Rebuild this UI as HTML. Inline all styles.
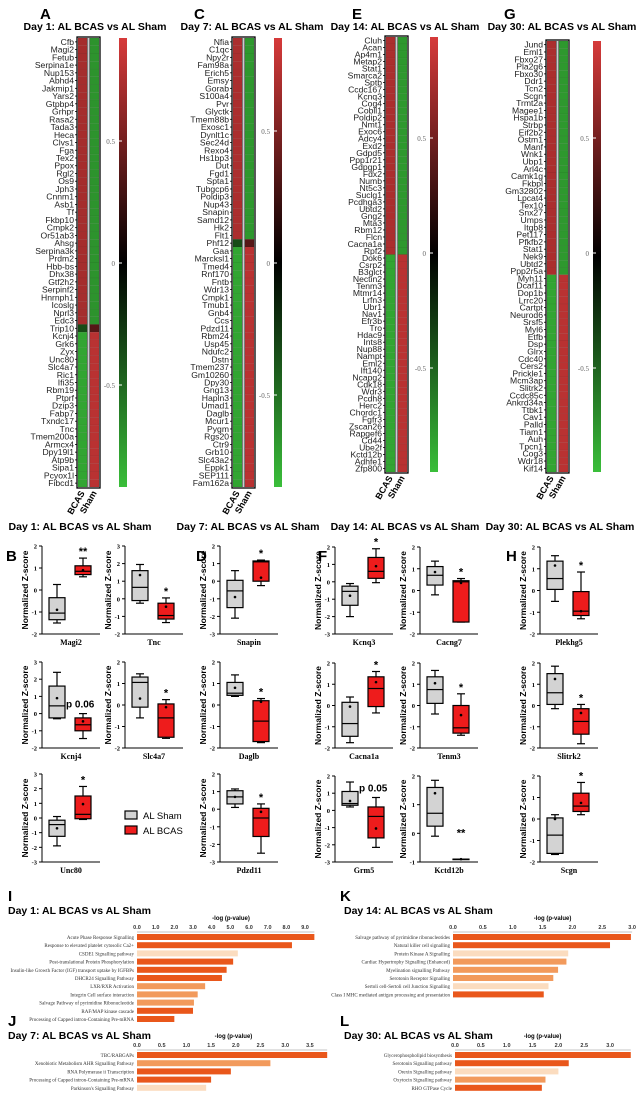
<!DOCTYPE html>
<html><head><meta charset="utf-8">
<style>
html,body{margin:0;padding:0;background:#fff;}
svg{display:block;font-family:"Liberation Sans",sans-serif;}
.ser{font-family:"Liberation Serif",serif;}
</style></head>
<body>
<svg id="fig" width="644" height="1095" viewBox="0 0 644 1095" xmlns="http://www.w3.org/2000/svg"></svg>
<script>
// ---------- Heatmap data ----------
const genesA = ["Cfb","Magi2","Fetub","Serpina1e","Nup153","Abhd4","Jakmip1","Yars2","Gtpbp4","Grhpr","Rasa2","Tada3","Heca","Clvs1","Fga","Tex2","Ppox","Rgl2","Os9","Jph3","Cnnm1","Asb1","Tf","Fkbp10","Cmpk2","Or51ab3","Ahsg","Serpina3k","Prdm2","Hbb-bs","Dhx38","Gtf2h2","Serpinf2","Hnrnph1","Icoslg","Nprl3","Edc3","Trip10","Kcnj4","Grk6","Zyx","Unc80","Slc4a7","Ric1","Ifi35","Rbm19","Ptprf","Dzip3","Fabp7","Txndc17","Tnc","Tmem200a","Armcx4","Dpy19l1","Atp9b","Sipa1","Pcyox1l","Fibcd1"];
const genesC = ["Nfia","C1qc","Npy2r","Fam98a","Erich5","Emsy","Gorab","S100a4","Pvr","Glyctk","Tmem88b","Exosc1","Dynlt1c","Sec24d","Rexo4","Hs1bp3","Dut","Fgd1","Spta1","Tubgcp6","Poldip3","Nup43","Snapin","Samd12","Hk2","Flt1","Phf12","Gaa","Marcksl1","Tmed4","Rnf170","Fntb","Wdr13","Cmpk1","Tmub1","Gnb4","Ccs","Pdzd11","Rbm24","Usp45","Ndufc2","Dstn","Tmem237","Gm10260","Dpy30","Gng13","Hapln3","Umad1","Daglb","Mcur1","Pygm","Rgs20","Ctr9","Grb10","Slc43a2","Eppk1","SEP111","Fam162a"];
const genesE = ["Cluh","Acan","Ap4m1","Metap2","Stat1","Smarca2","Sptb","Ccdc167","Kcnq3","Cog4","Cobll1","Poldip2","Nmt1","Exoc6","Adcy4","Exd2","Gdpd5","Ppp1r21","Gdpgp1","Fdx2","Numb","Nt5c3","Suclg1","Pcdhga3","Ubtd2","Gng2","Mta3","Rbm12","Flcn","Cacna1a","Rpf2","Dok6","Csrp2","B3glct","Nectin2","Tenm3","Mtmr14","Lrfn3","Ubr1","Nav1","Efr3b","Tro","Hdac9","Ints8","Nup88","Nampt","Eml2","Ift140","Ncapg2","Cdk18","Wdr3","Pcdh8","Herc2","Chordc1","Fgfr3","Zscan26","Rapgef6","Cd44","Ube2f","Kctd12b","Adhfe1","Zfp800"];
const genesG = ["Jund","Eml1","Fbxo27","Pla2g6","Fbxo30","Ddr1","Tcn2","Scgn","Trmt2a","Magee1","Hspa1b","Strbp","Eif2b2","Ostm1","Manf","Wnk1","Ubp1","Arl4c","Camk1g","Fkbpl","Gm32802","Lpcat4","Tex10","Snx27","Umps","Itgb8","Pet117","Pfkfb2","Stat1","Nek9","Ubtd2","Ppp2r5a","Myh11","Dcaf11","Dop1b","Lrrc20","Cartpt","Neurod6","Srsf5","Myl6","Etfb","Dsp","Glrx","Cdc40","Cers2","Prickle1","Mcm3ap","Slitrk2","Ccdc85c","Ankrd34a","Ttbk1","Cav1","Palld","Tiam1","Auh","Tpcn1","Cog3","Wdr18","Kif14"];
// BCAS z-values per gene (Sham = negative)
const bcasA = genesA.map((g,i)=> i<37 ? 0.58 : (i===37 ? -0.3 : -0.65));
const bcasC = genesC.map((g,i)=> i<26 ? 0.6 : (i===26 ? -0.3 : -0.65));
const bcasE = genesE.map((g,i)=> i<31 ? 0.6 : -0.65);
const bcasG = genesG.map((g,i)=> i<32 ? 0.6 : -0.65);

// ---------- Box plot data: [min,q1,med,q3,max] ----------
const boxGenes = ["Magi2","Tnc","Snapin","Kcnj4","Slc4a7","Daglb","Unc80","Pdzd11","Kcnq3","Cacng7","Plekhg5","Cacna1a","Tenm3","Slitrk2","Grm5","Kctd12b","Scgn"];
const shamStats = [[-1.5,-1.35,-1.05,-0.35,0.25],[-0.25,-0.1,0.65,1.6,1.95],[-2.1,-1.5,-0.55,0.05,0.6],[-0.3,-0.25,0.45,1.6,2.4],[-0.6,-0.1,1.05,1.3,1.45],[0.4,0.45,0.55,1.05,1.4],[-1.9,-1.25,-0.45,-0.15,0.1],[0.1,0.3,0.7,1.05,1.15],[-2,-1.35,-0.55,-0.25,-0.1],[-0.2,0.25,0.7,1.1,1.35],[-0.5,0.05,0.55,1.35,1.6],[-1.75,-1.45,-0.85,0.15,0.4],[-0.4,0.1,0.75,1.35,1.65],[-0.15,0.05,0.6,1.5,1.85],[0.2,0.3,0.4,1.1,1.65],[-0.1,0.25,0.7,1.6,1.85],[-1.65,-1.6,-0.75,0.05,0.2]];
const bcasStats = [[0.6,0.7,0.85,1.1,1.45],[-1.35,-1.15,-0.95,-0.25,0.05],[-0.25,0,1.1,1.15,1.2],[-1.45,-1,-0.65,-0.25,0],[-1.55,-1.5,-0.6,0.05,0.25],[-1.75,-1.7,-0.75,0.2,0.3],[-0.1,-0.05,0.25,1.5,2.15],[-2.5,-1.55,-0.5,0.05,0.3],[-0.05,0.2,0.6,1.4,1.9],[-1.45,-1.45,0.4,0.45,0.55],[-1.3,-1.15,-0.95,-0.05,0.85],[-0.35,-0.05,0.8,1.35,1.6],[-1.4,-1.3,-1.05,0,0.55],[-1.8,-1.35,-0.75,-0.15,0.05],[-2.15,-1.6,-0.35,0.2,0.75],[-0.9,-0.9,-0.9,-0.9,-0.9],[0.2,0.35,0.6,1.2,1.7]];
const shamMeans = [-0.9,1.35,-0.9,0.9,0.3,0.8,-0.7,0.7,-0.8,0.85,1.15,-0.05,1.05,1.25,0.55,1.4,0];
const bcasMeans = [0.9,-0.45,0.2,-0.45,-0.1,0.15,0.95,-0.15,0.9,0.35,-0.95,1.1,-0.45,-0.35,-1.05,-0.9,0.75];
const sigLabels = ["**","*","*","p 0.06","*","*","*","*","*","*","*","*","*","*","p 0.05","**","*"];
const yMaxs = [2,3,2,3,2,2,3,2,2,2,2,2,2,2,2,2,2];
const yMins = [-2,-2,-3,-2,-2,-2,-3,-3,-3,-2,-2,-2,-2,-2,-3,-1,-2];

// ---------- Pathway bar data ----------
const pathI = ["Acute Phase Response Signalling","Response to elevated platelet cytosolic Ca2+","CSDE1 Signalling pathway","Post-translational Protein Phosphorylation","Insulin-like Growth Factor (IGF) transport uptake by IGFBPs","DHCR24 Signalling Pathway","LXR/RXR Activation","Integrin Cell surface interaction","Salvage Pathway of pyrimidine Ribonucleotide","RAF/MAP kinase cascade","Processing of Capped intron-Containing Pre-mRNA"];
const valsI = [9.5,8.3,5.4,5.15,4.8,4.55,3.65,3.25,3.05,3.0,2.0];
const tonesI = [0,0,2,0,0,0,1,1,1,0,0];
const ticksI = ["0.0","1.0","2.0","3.0","4.0","5.0","6.0","7.0","8.0","9.0"];
const pathJ = ["TBC/RABGAPs","Xenobiotic Metabolism AHR Signalling Pathway","RNA Polymerase ii Transcription","Processing of Capped intron-Containing Pre-mRNA","Parkinson's Signalling Pathway"];
const valsJ = [3.85,2.7,1.9,1.5,1.4];
const tonesJ = [0,1,0,0,2];
const ticksJ = ["0.0","0.5","1.0","1.5","2.0","2.5","3.0","3.5"];
const pathK = ["Salvage pathway of pyrimidine ribonucleotides","Natural killer cell signalling","Protein Kinase A Signalling","Cardiac Hypertrophy Signalling (Enhanced)","Myelination signalling Pathway","Serotonin Receptor Signalling","Sertoli cell-Sertoli cell Junction Signalling","Class I MHC mediated antigen processing and presentation"];
const valsK = [2.98,2.63,1.93,1.9,1.76,1.68,1.6,1.52];
const tonesK = [0,0,2,1,1,1,2,0];
const ticksK = ["0.0","0.5","1.0","1.5","2.0","2.5","3.0"];
const pathL = ["Glycerophospholipid biosynthesis","Serotonin Signalling pathway","Orexin Signalling pathway","Oxytocin Signalling pathway","RHO GTPase Cycle"];
const valsL = [3.4,2.2,2.0,1.75,1.68];
const tonesL = [0,0,2,1,0];
const ticksL = ["0.0","0.5","1.0","1.5","2.0","2.5","3.0"];

const NS="http://www.w3.org/2000/svg";
const svg=document.getElementById('fig');
function mk(tag,attrs,parent){const e=document.createElementNS(NS,tag);for(const k in attrs)e.setAttribute(k,attrs[k]);(parent||svg).appendChild(e);return e;}
function txt(s,x,y,attrs,parent){const e=mk('text',Object.assign({x:x,y:y},attrs||{}),parent);e.textContent=s;return e;}
function grp(name){const g=mk('g',{});return g;}
function mix(a,b,t){return 'rgb('+a.map((v,i)=>Math.round(v+(b[i]-v)*t)).join(',')+')';}
function heatColor(v){return v>=0?mix([0,0,0],[214,58,58],Math.min(1,v/0.75)):mix([0,0,0],[58,190,58],Math.min(1,-v/0.75));}

// ---------- Heatmaps ----------
const heatPanels=[
 {L:"A",title:"Day 1: AL BCAS vs AL Sham",genes:genesA,vals:bcasA,x:78,top:38,bot:487,cb:119,t05:141,t0:263,tc:95,lx:40,bt:527},
 {L:"C",title:"Day 7: AL BCAS vs AL Sham",genes:genesC,vals:bcasC,x:233,top:38,bot:487,cb:274,t05:131,t0:263,tc:252,lx:194,bt:527},
 {L:"E",title:"Day 14: AL BCAS vs AL Sham",genes:genesE,vals:bcasE,x:386,top:37,bot:472,cb:430,t05:138,t0:253,tc:405,lx:352,bt:514},
 {L:"G",title:"Day 30: AL BCAS vs AL Sham",genes:genesG,vals:bcasG,x:547,top:41,bot:472,cb:593,t05:138,t0:253,tc:562,lx:504,bt:514}
];
heatPanels.forEach((p,pi)=>{
  const g=grp('heatmap-panel-'+p.L.toLowerCase());
  txt(p.L,p.lx,19,{'font-size':15,'font-weight':'bold'},g);
  txt(p.title,p.tc,30,{'font-size':10.5,'font-weight':'bold','text-anchor':'middle'},g);
  const n=p.genes.length,rh=(p.bot-p.top)/n;
  const cells=grp('heatmap-cells-'+p.L.toLowerCase());g.appendChild(cells);
  p.vals.forEach((v,i)=>{
    const y=p.top+i*rh;
    const c1=mk('rect',{x:p.x,y:y,width:9,height:rh,fill:heatColor(v),stroke:'rgba(0,0,0,0.15)','stroke-width':0.3},cells);
    
    
    const c2=mk('rect',{x:p.x+12,y:y,width:9,height:rh,fill:heatColor(-v),stroke:'rgba(0,0,0,0.15)','stroke-width':0.3},cells);
    
    
    const lab=txt(p.genes[i],p.x-4,y+rh*0.5+3,{'font-size':8.6,'text-anchor':'end',fill:'#222'},g);
    
    
    mk('line',{x1:p.x-3,x2:p.x-1,y1:y+rh/2,y2:y+rh/2,stroke:'#000','stroke-width':0.8},g);
  });
  mk('rect',{x:p.x-1,y:p.top-1,width:23,height:p.bot-p.top+2,fill:'none',stroke:'#000','stroke-width':1.3},g);
  mk('line',{x1:p.x+9.8,x2:p.x+9.8,y1:p.top,y2:p.bot,stroke:'#000','stroke-width':0.6},g);
  mk('line',{x1:p.x+11.2,x2:p.x+11.2,y1:p.top,y2:p.bot,stroke:'#000','stroke-width':0.6},g);
  const b=txt("BCAS",p.x+7,p.bot+6,{'font-size':9,'font-weight':'bold','text-anchor':'end',transform:'rotate(-60 '+(p.x+7)+' '+(p.bot+6)+')'},g);
  
  const s=txt("Sham",p.x+19,p.bot+6,{'font-size':9,'font-weight':'bold','text-anchor':'end',transform:'rotate(-60 '+(p.x+19)+' '+(p.bot+6)+')'},g);
  
  const gid='cbg'+pi;
  const defs=mk('defs',{},g);
  const lg=mk('linearGradient',{id:gid,x1:0,y1:0,x2:0,y2:1},defs);
  const top=(p.t0-p.top)/(p.t0-p.t05)*0.5;
  mk('stop',{offset:'0','stop-color':heatColor(top)},lg);
  mk('stop',{offset:'0.5','stop-color':'#000'},lg);
  mk('stop',{offset:'1','stop-color':heatColor(-top)},lg);
  const cb=mk('rect',{x:p.cb,y:p.top,width:8,height:p.bot-p.top,fill:'url(#'+gid+')'},g);
  
  [[0.5,'0.5'],[0,'0'],[-0.5,'-0.5']].forEach(([v,l])=>{
    const y=p.t0-(p.t0-p.t05)*v/0.5;
    mk('line',{x1:p.cb-1,x2:p.cb+3,y1:y,y2:y,stroke:'#fff','stroke-width':1},g);
    txt(l,p.cb-4,y+3,{'font-size':7,'text-anchor':'end',fill:'#666',class:'ser'},g);
  });
});

// ---------- Box plots ----------
const boxPos=[[42,546,634],[125,546,634],[220,546,634],[42,662,748],[125,662,748],[220,662,748],[42,774,862],[220,774,862],
 [335,547,634],[420,547,634],[540,547,634],[335,663,748],[420,663,748],[540,663,748],[335,776,862],[420,776,862],[540,776,862]];
const bh=grp('box-section-headers');
[["Day 1: AL BCAS vs AL Sham",80],["Day 7: AL BCAS vs AL Sham",248],["Day 14: AL BCAS vs AL Sham",405],["Day 30: AL BCAS vs AL Sham",560]].forEach(([t,x])=>txt(t,x,530,{'font-size':10.5,'font-weight':'bold','text-anchor':'middle'},bh));
[["B",6],["D",196],["F",318],["H",506]].forEach(([t,x])=>txt(t,x,561,{'font-size':15,'font-weight':'bold'},bh));
boxGenes.forEach((gene,i)=>{
  const [ax,yt,yb]=boxPos[i];
  const g=grp('boxplot-'+gene.toLowerCase());
  const lo=yMins[i],hi=yMaxs[i];
  const Y=v=>yb-(v-lo)/(hi-lo)*(yb-yt);
  mk('line',{x1:ax,x2:ax,y1:yt,y2:yb,stroke:'#000','stroke-width':1},g);
  mk('line',{x1:ax,x2:ax+58,y1:yb,y2:yb,stroke:'#000','stroke-width':1},g);
  for(let v=lo;v<=hi;v++){
    mk('line',{x1:ax-3,x2:ax,y1:Y(v),y2:Y(v),stroke:'#000','stroke-width':1},g);
    txt(String(v),ax-5,Y(v)+2.5,{'font-size':6.5,'text-anchor':'end','font-weight':'bold',class:'ser'},g);
  }
  const yl=txt("Normalized Z-score",ax-14,(yt+yb)/2,{'font-size':8.5,'font-weight':'bold','text-anchor':'middle',transform:'rotate(-90 '+(ax-14)+' '+((yt+yb)/2)+')'},g);
  
  txt(gene,ax+29,yb+11,{'font-size':8,'font-weight':'bold','text-anchor':'middle',class:'ser'},g);
  [[shamStats[i],shamMeans[i],ax+15,'#d3d3d3'],[bcasStats[i],bcasMeans[i],ax+41,'#ee1c1c']].forEach(([s,m,cx,col],k)=>{
    const w=16;
    mk('line',{x1:cx,x2:cx,y1:Y(s[0]),y2:Y(s[4]),stroke:'#000','stroke-width':1.2},g);
    mk('line',{x1:cx-4,x2:cx+4,y1:Y(s[0]),y2:Y(s[0]),stroke:'#000','stroke-width':1.2},g);
    mk('line',{x1:cx-4,x2:cx+4,y1:Y(s[4]),y2:Y(s[4]),stroke:'#000','stroke-width':1.2},g);
    const bx=mk('rect',{x:cx-w/2,y:Y(s[3]),width:w,height:Math.max(0.5,Y(s[1])-Y(s[3])),fill:col,stroke:'#000','stroke-width':1.2},g);
    
    mk('line',{x1:cx-w/2,x2:cx+w/2,y1:Y(s[2]),y2:Y(s[2]),stroke:'#000','stroke-width':1.2},g);
    mk('circle',{cx:cx,cy:Y(m),r:1.3,fill:'#000'},g);
  });
  const sig=sigLabels[i];
  if(sig.startsWith('p')) txt(sig,ax+24,Y(bcasStats[i][4])-6,{'font-size':10,'font-weight':'bold'},g);
  else if(gene==='Kctd12b') txt(sig,ax+41,Y(0)+3,{'font-size':11,'font-weight':'bold','text-anchor':'middle'},g);
  else txt(sig,ax+41,Y(bcasStats[i][4])-3,{'font-size':11,'font-weight':'bold','text-anchor':'middle'},g);
});
// legend
const lgd=grp('legend');
const l1=mk('rect',{x:125,y:811,width:12,height:8,fill:'#d3d3d3',stroke:'#000','stroke-width':1.2},lgd);

txt("AL Sham",143,819,{'font-size':9.5},lgd);
const l2=mk('rect',{x:125,y:826,width:12,height:8,fill:'#ee1c1c',stroke:'#000','stroke-width':1.2},lgd);

txt("AL BCAS",143,834,{'font-size':9.5},lgd);

// ---------- Pathway bar charts ----------
const tones=['#e9571b','#f29a5c','#fbdcbf'];
const barPanels=[
 {L:"I",title:"Day 1: AL BCAS vs AL Sham",names:pathI,vals:valsI,tones:tonesI,ticks:ticksI,step:1,x0:137,unit:18.67,lx:8,ly:901,ty:914,axy:932,by:934,tx:8},
 {L:"J",title:"Day 7: AL BCAS vs AL Sham",names:pathJ,vals:valsJ,tones:tonesJ,ticks:ticksJ,step:0.5,x0:137,unit:49.4,lx:8,ly:1026,ty:1039,axy:1050,by:1052,tx:8},
 {L:"K",title:"Day 14: AL BCAS vs AL Sham",names:pathK,vals:valsK,tones:tonesK,ticks:ticksK,step:0.5,x0:453,unit:59.7,lx:340,ly:901,ty:914,axy:932,by:934,tx:344},
 {L:"L",title:"Day 30: AL BCAS vs AL Sham",names:pathL,vals:valsL,tones:tonesL,ticks:ticksL,step:0.5,x0:455,unit:51.7,lx:340,ly:1026,ty:1039,axy:1050,by:1052,tx:344}
];
barPanels.forEach(p=>{
  const g=grp('pathway-chart-'+p.L.toLowerCase());
  txt(p.L,p.lx,p.ly,{'font-size':15,'font-weight':'bold'},g);
  txt(p.title,p.tx,p.ty,{'font-size':10.5,'font-weight':'bold'},g);
  const X=v=>p.x0+v*p.unit;
  const xmax=(p.ticks.length-1)*p.step;
  txt("-log (p-value)",X(xmax/2)+10,p.axy-12,{'font-size':6,'font-weight':'bold','text-anchor':'middle'},g);
  p.ticks.forEach((t,k)=>{
    txt(t,X(k*p.step),p.axy-3,{'font-size':5.5,'font-weight':'bold','text-anchor':'middle',fill:'#333'},g);
  });
  mk('line',{x1:p.x0,x2:X(Math.max(xmax,Math.max(...p.vals))),y1:p.axy,y2:p.axy,stroke:'#888','stroke-width':0.6},g);
  p.vals.forEach((v,k)=>{
    const y=p.by+k*8.2;
    const r=mk('rect',{x:p.x0,y:y,width:X(v)-p.x0,height:6,fill:tones[p.tones[k]]},g);
    
    txt(p.names[k],p.x0-3,y+5,{'font-size':5,'text-anchor':'end',fill:'#333',class:'ser'},g);
  });
});
</script>
</body></html>
